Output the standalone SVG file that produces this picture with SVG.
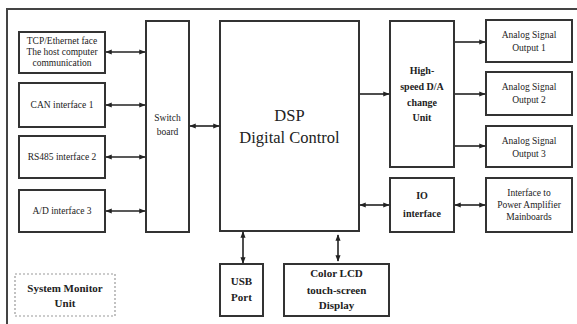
<svg xmlns="http://www.w3.org/2000/svg" width="577" height="324" viewBox="0 0 577 324">
<style>
.bx{fill:#fff;stroke:#333;stroke-width:2}
.t{font-family:"Liberation Serif","DejaVu Serif",serif;fill:#222;text-anchor:middle}
.s{font-size:9.5px}
.m{font-size:11px;font-weight:bold}
.l{font-size:10px;font-weight:bold}
.xl{font-size:16.5px}
.c{stroke:#222;stroke-width:1.6;fill:none;marker-end:url(#ah)}
.d{stroke:#222;stroke-width:1.6;fill:none;marker-start:url(#ahs);marker-end:url(#ah)}
</style>
<defs>
<marker id="ah" viewBox="0 0 10 10" refX="9" refY="5" markerWidth="4" markerHeight="4" orient="auto"><path d="M0,1 L10,5 L0,9 z" fill="#222"/></marker>
<marker id="ahs" viewBox="0 0 10 10" refX="1" refY="5" markerWidth="4" markerHeight="4" orient="auto"><path d="M10,1 L0,5 L10,9 z" fill="#222"/></marker>
</defs>
<rect width="577" height="324" fill="#fff"/>
<path d="M7,324 V9 H577" fill="none" stroke="#444" stroke-width="2"/>

<g id="tcp"><rect class="bx" x="19" y="32" width="86" height="41"/>
<text class="t s" x="62" y="44" font-size="8.5">TCP/Ethernet face</text><text class="t s" x="62" y="55" font-size="8.5">The host computer</text><text class="t s" x="62" y="66" font-size="8.5">communication</text></g>
<g id="can"><rect class="bx" x="19" y="83" width="86" height="44"/><text class="t s" x="62" y="108">CAN interface 1</text></g>
<g id="rs"><rect class="bx" x="19" y="136" width="86" height="42"/><text class="t s" x="62" y="160">RS485 interface 2</text></g>
<g id="ad"><rect class="bx" x="19" y="190" width="86" height="42"/><text class="t s" x="62" y="214">A/D interface 3</text></g>
<g id="switch"><rect class="bx" x="146" y="21" width="43" height="211"/><text class="t s" x="167.5" y="121">Switch</text><text class="t s" x="167.5" y="135">board</text></g>
<g id="dsp"><rect class="bx" x="220" y="21" width="139" height="210"/><text class="t xl" x="289.5" y="121">DSP</text><text class="t xl" x="289.5" y="143">Digital Control</text></g>
<g id="da"><rect class="bx" x="390" y="21" width="64" height="146"/>
<text class="t l" x="422" y="74">High-</text><text class="t l" x="422" y="90">speed D/A</text><text class="t l" x="422" y="106">change</text><text class="t l" x="422" y="121">Unit</text></g>
<g id="out1"><rect class="bx" x="486" y="20" width="86" height="42"/><text class="t s" x="529" y="38">Analog Signal</text><text class="t s" x="529" y="51">Output 1</text></g>
<g id="out2"><rect class="bx" x="486" y="72" width="86" height="43"/><text class="t s" x="529" y="90">Analog Signal</text><text class="t s" x="529" y="103">Output 2</text></g>
<g id="out3"><rect class="bx" x="486" y="126" width="86" height="41"/><text class="t s" x="529" y="144">Analog Signal</text><text class="t s" x="529" y="157">Output 3</text></g>
<g id="io"><rect class="bx" x="390" y="178" width="64" height="54"/><text class="t l" x="422" y="199" font-size="12">IO</text><text class="t l" x="422" y="217" font-size="12">interface</text></g>
<g id="pa"><rect class="bx" x="486" y="178" width="86" height="54"/>
<text class="t s" x="529" y="196">Interface to</text><text class="t s" x="529" y="208">Power Amplifier</text><text class="t s" x="529" y="220">Mainboards</text></g>
<g id="usb"><rect class="bx" x="220" y="264" width="43" height="52"/><text class="t m" x="241.5" y="285">USB</text><text class="t m" x="241.5" y="301">Port</text></g>
<g id="lcd"><rect class="bx" x="284" y="264" width="105" height="52"/>
<text class="t m" x="336.5" y="277">Color LCD</text><text class="t m" x="336.5" y="294">touch-screen</text><text class="t m" x="336.5" y="309">Display</text></g>
<g id="monitor"><rect x="15" y="274" width="100" height="42" fill="none" stroke="#999" stroke-width="1.2" stroke-dasharray="2,2"/>
<text class="t m" x="65" y="292" font-size="12.5">System Monitor</text><text class="t m" x="65" y="307" font-size="12.5">Unit</text></g>

<g id="connectors">
<line class="d" x1="106" y1="52" x2="145" y2="52"/>
<line class="d" x1="106" y1="105" x2="145" y2="105"/>
<line class="d" x1="106" y1="157" x2="145" y2="157"/>
<line class="d" x1="106" y1="211" x2="145" y2="211"/>
<line class="d" x1="190" y1="126" x2="219" y2="126"/>
<line class="c" x1="360" y1="94" x2="389" y2="94"/>
<line class="c" x1="455" y1="42" x2="485" y2="42"/>
<line class="c" x1="455" y1="94" x2="485" y2="94"/>
<line class="c" x1="455" y1="146" x2="485" y2="146"/>
<line class="d" x1="360" y1="205" x2="389" y2="205"/>
<line class="d" x1="455" y1="205" x2="485" y2="205"/>
<line class="d" x1="243" y1="232" x2="243" y2="263"/>
<line class="d" x1="338" y1="235" x2="338" y2="261"/>
</g>
</svg>
